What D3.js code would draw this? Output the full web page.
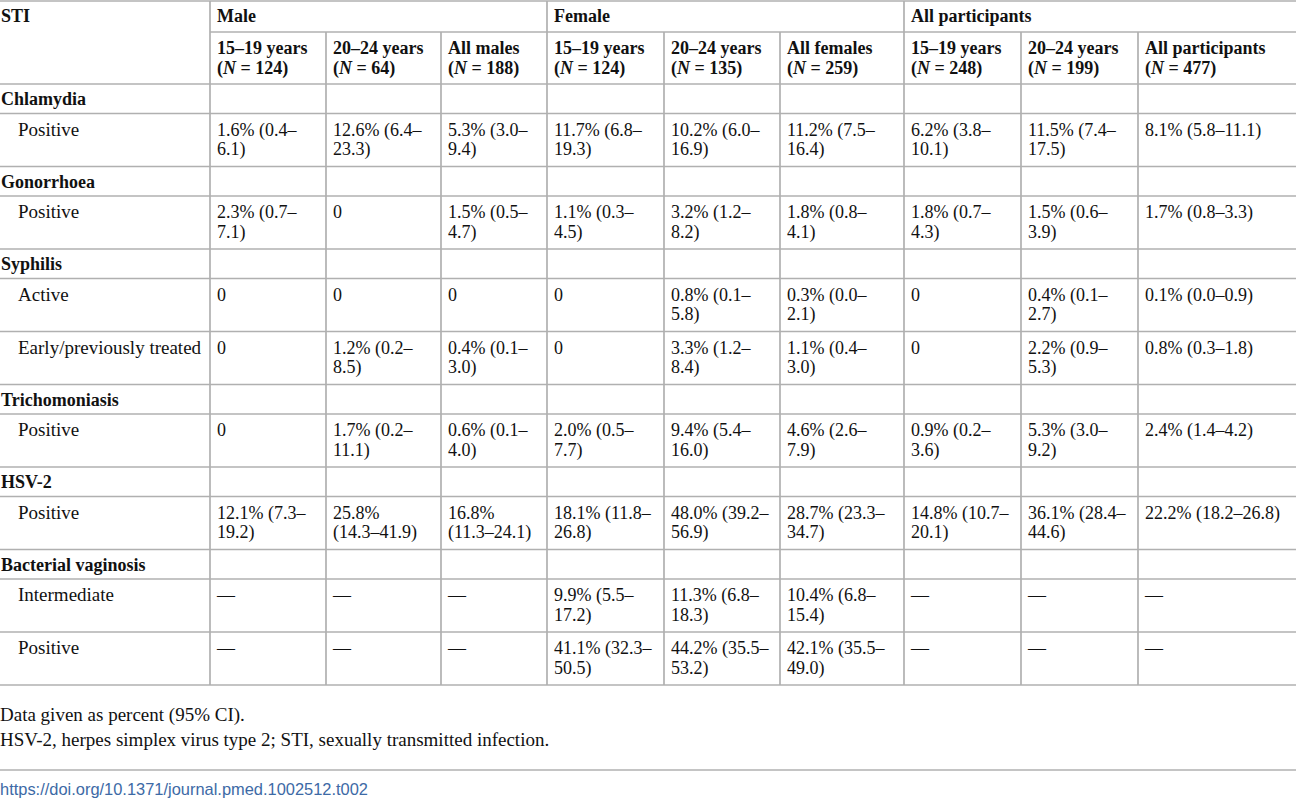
<!DOCTYPE html>
<html>
<head>
<meta charset="utf-8">
<script src="https://cdn.jsdelivr.net/npm/d3@7"></script>
<style>
  body { margin: 0; background: #fff; }
  text { font-family: "Liberation Serif", "DejaVu Serif", serif; fill: #111; }
</style>
</head>
<body>
<div id="table"></div>
<script>
var groups = ["Male", "Female", "All participants"];
var subgroups = ["15–19 years", "20–24 years", "All males", "15–19 years", "20–24 years", "All females", "15–19 years", "20–24 years", "All participants"];
var groupN = [124, 64, 188, 124, 135, 259, 248, 199, 477];
var infections = ["Chlamydia", "Gonorrhoea", "Syphilis", "Trichomoniasis", "HSV-2", "Bacterial vaginosis"];
var outcomes = [["Positive"], ["Positive"], ["Active", "Early/previously treated"], ["Positive"], ["Positive"], ["Intermediate", "Positive"]];

// percent, lower and upper 95% CI, one row per outcome (null = not tested)
var estimates = [
  [1.6, 12.6, 5.3, 11.7, 10.2, 11.2, 6.2, 11.5, 8.1],
  [2.3, 0, 1.5, 1.1, 3.2, 1.8, 1.8, 1.5, 1.7],
  [0, 0, 0, 0, 0.8, 0.3, 0, 0.4, 0.1],
  [0, 1.2, 0.4, 0, 3.3, 1.1, 0, 2.2, 0.8],
  [0, 1.7, 0.6, 2.0, 9.4, 4.6, 0.9, 5.3, 2.4],
  [12.1, 25.8, 16.8, 18.1, 48.0, 28.7, 14.8, 36.1, 22.2],
  [null, null, null, 9.9, 11.3, 10.4, null, null, null],
  [null, null, null, 41.1, 44.2, 42.1, null, null, null]
];
var ciLow = [
  [0.4, 6.4, 3.0, 6.8, 6.0, 7.5, 3.8, 7.4, 5.8],
  [0.7, null, 0.5, 0.3, 1.2, 0.8, 0.7, 0.6, 0.8],
  [null, null, null, null, 0.1, 0.0, null, 0.1, 0.0],
  [null, 0.2, 0.1, null, 1.2, 0.4, null, 0.9, 0.3],
  [null, 0.2, 0.1, 0.5, 5.4, 2.6, 0.2, 3.0, 1.4],
  [7.3, 14.3, 11.3, 11.8, 39.2, 23.3, 10.7, 28.4, 18.2],
  [null, null, null, 5.5, 6.8, 6.8, null, null, null],
  [null, null, null, 32.3, 35.5, 35.5, null, null, null]
];
var ciHigh = [
  [6.1, 23.3, 9.4, 19.3, 16.9, 16.4, 10.1, 17.5, 11.1],
  [7.1, null, 4.7, 4.5, 8.2, 4.1, 4.3, 3.9, 3.3],
  [null, null, null, null, 5.8, 2.1, null, 2.7, 0.9],
  [null, 8.5, 3.0, null, 8.4, 3.0, null, 5.3, 1.8],
  [null, 11.1, 4.0, 7.7, 16.0, 7.9, 3.6, 9.2, 4.2],
  [19.2, 41.9, 24.1, 26.8, 56.9, 34.7, 20.1, 44.6, 26.8],
  [null, null, null, 17.2, 18.3, 15.4, null, null, null],
  [null, null, null, 50.5, 53.2, 49.0, null, null, null]
];

var footnotes = ["Data given as percent (95% CI).", "HSV-2, herpes simplex virus type 2; STI, sexually transmitted infection."];
var doi = "https://doi.org/10.1371/journal.pmed.1002512.t002";

// ---- layout ----
var width = 1296, height = 800;
var fontSize = 18, labelSize = 19, lineGap = 19.5, pad = 7;
var colWidths = [210, 116, 115, 106, 117, 116, 124, 117, 117, 158];
// width a cell line may take before it wraps (per data column)
var wrapWidths = [92, 92, 92, 98.2, 98.2, 98.2, 98.2, 98.2, 150];
var colEdges = [0].concat(Array.from(d3.cumsum(colWidths)));
var x = d3.scaleOrdinal().domain(d3.range(colWidths.length)).range(colEdges.slice(0, -1));
var lineColor = "#b0b0b0";

// table rows: two header rows, then a section row per infection and a data row per outcome
var rows = [{type: "group", h: 31}, {type: "sub", h: 52}];
var k = 0;
infections.forEach(function(name, i) {
  rows.push({type: "section", label: name, h: 29.5});
  outcomes[i].forEach(function(o) {
    rows.push({type: "data", label: o, idx: k++, h: 53});
  });
});
var rowEdges = [1].concat(Array.from(d3.cumsum(rows, function(r) { return r.h; })).map(function(v) { return v + 1; }));
var y = d3.scaleOrdinal().domain(d3.range(rows.length)).range(rowEdges.slice(0, -1));
var tableBottom = rowEdges[rowEdges.length - 1];

function fmt(v) { return v.toFixed(1); }
function cellText(r, c) {
  var e = estimates[r][c];
  if (e === null) return ["—"];
  if (ciLow[r][c] === null) return [String(e)];
  return [fmt(e) + "%", " (" + fmt(ciLow[r][c]) + "–", fmt(ciHigh[r][c]) + ")"];
}

var svg = d3.select("#table").append("svg")
  .attr("width", width)
  .attr("height", height);
svg.append("rect").attr("width", width).attr("height", height).attr("fill", "#fff");

var gLines = svg.append("g").attr("stroke", lineColor).attr("stroke-width", 1.7);
var gText = svg.append("g").attr("font-size", fontSize);

// measure helper for wrapping
var probe = svg.append("text").attr("font-size", fontSize).attr("visibility", "hidden");
function textW(s) { probe.text(s); return probe.node().getComputedTextLength(); }

// horizontal rules
gLines.append("line").attr("x1", 0).attr("x2", width).attr("y1", rowEdges[0]).attr("y2", rowEdges[0]);
gLines.append("line").attr("x1", colEdges[1]).attr("x2", width).attr("y1", rowEdges[1]).attr("y2", rowEdges[1]);
rowEdges.slice(2).forEach(function(yy) {
  gLines.append("line").attr("x1", 0).attr("x2", width).attr("y1", yy).attr("y2", yy);
});
// vertical rules
colEdges.slice(1, -1).forEach(function(xx, i) {
  var c = i + 1;
  var top = (c === 1 || c === 4 || c === 7) ? rowEdges[0] : rowEdges[1];
  gLines.append("line").attr("x1", xx).attr("x2", xx).attr("y1", top).attr("y2", tableBottom);
});

// header
gText.append("text").attr("x", 1).attr("y", y(0) + 21).attr("font-weight", "bold").text("STI");
groups.forEach(function(gname, i) {
  gText.append("text").attr("x", x(1 + i * 3) + pad).attr("y", y(0) + 21)
    .attr("font-weight", "bold").text(gname);
});
subgroups.forEach(function(s, i) {
  var t = gText.append("text").attr("font-weight", "bold");
  t.append("tspan").attr("x", x(i + 1) + pad).attr("y", y(1) + 22).text(s);
  t.append("tspan").attr("x", x(i + 1) + pad).attr("y", y(1) + 22 + lineGap).text("(");
  t.append("tspan").attr("font-style", "italic").text("N");
  t.append("tspan").text(" = " + groupN[i] + ")");
});

// body
rows.forEach(function(r, ri) {
  if (r.type === "section") {
    gText.append("text").attr("x", 1).attr("y", y(ri) + 21)
      .attr("font-weight", "bold").text(r.label);
  }
  if (r.type === "data") {
    gText.append("text").attr("x", 18).attr("y", y(ri) + 22)
      .attr("font-size", labelSize).text(r.label);
    subgroups.forEach(function(s, c) {
      var parts = cellText(r.idx, c);
      var avail = wrapWidths[c];
      var lines;
      if (parts.length === 1 || textW(parts.join("")) <= avail) lines = [parts.join("")];
      else if (textW(parts[0] + parts[1]) <= avail) lines = [parts[0] + parts[1], parts[2]];
      else lines = [parts[0], parts[1].trim() + parts[2]];
      var t = gText.append("text");
      lines.forEach(function(l, li) {
        t.append("tspan").attr("x", x(c + 1) + pad).attr("y", y(ri) + 22 + li * lineGap).text(l);
      });
    });
  }
});

// footnotes
footnotes.forEach(function(f, i) {
  svg.append("text").attr("x", 0).attr("y", tableBottom + 36 + i * 25)
    .attr("font-size", labelSize).text(f);
});
svg.append("line").attr("x1", 0).attr("x2", width).attr("y1", 770).attr("y2", 770)
  .attr("stroke", lineColor).attr("stroke-width", 1.7);
svg.append("text").attr("x", 0).attr("y", 795)
  .attr("font-size", 17)
  .attr("textLength", 368)
  .attr("lengthAdjust", "spacingAndGlyphs")
  .style("font-family", "'Liberation Sans Narrow', 'Liberation Sans', Arial, sans-serif")
  .style("fill", "#3d6aa6")
  .text(doi);
probe.remove();
</script>
</body>
</html>
